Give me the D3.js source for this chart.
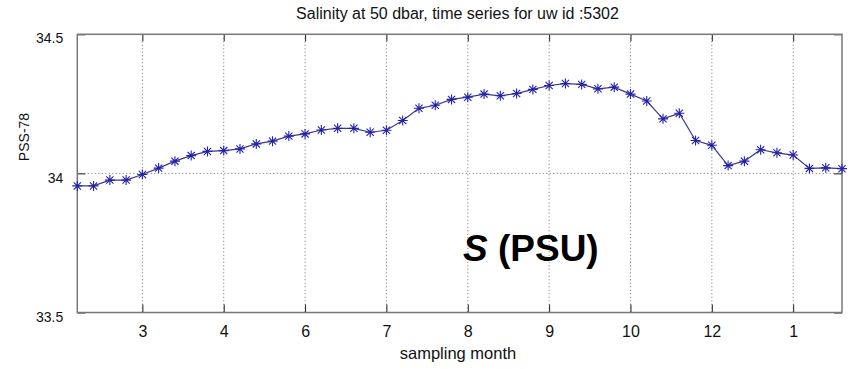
<!DOCTYPE html>
<html>
<head>
<meta charset="utf-8">
<script src="https://cdn.jsdelivr.net/npm/d3@7/dist/d3.min.js"></script>
<style>
  html, body { margin: 0; padding: 0; background: #fff; }
  svg { display: block; font-family: "Liberation Sans", Arial, Helvetica, sans-serif; }
</style>
</head>
<body>
<svg id="chart" width="850" height="369"></svg>
<script>
// Salinity samples at 50 dbar, one per sampling step
const salinity = [
  33.955, 33.955, 33.976, 33.976, 33.996, 34.019, 34.044, 34.064,
  34.079, 34.082, 34.088, 34.106, 34.116, 34.134, 34.142, 34.156,
  34.162, 34.162, 34.148, 34.155, 34.190, 34.234, 34.245, 34.266,
  34.274, 34.285, 34.279, 34.287, 34.302, 34.316, 34.323, 34.320,
  34.304, 34.310, 34.285, 34.260, 34.196, 34.216, 34.118, 34.101,
  34.028, 34.044, 34.085, 34.074, 34.066, 34.018, 34.020, 34.017
];
// Sample positions carrying a month label, and the labels themselves
const monthTickIndex = [4, 9, 14, 19, 24, 29, 34, 39, 44];
const monthTickLabels = ["3", "4", "6", "7", "8", "9", "10", "12", "1"];
const yTicks = [33.5, 34, 34.5];
const yTickLabels = ["33.5", "34", "34.5"];

const svg = d3.select("#chart");
const plot = { left: 77.3, right: 842, top: 34.3, bottom: 312.5 };

const x = d3.scaleLinear().domain([0, salinity.length - 1]).range([plot.left, plot.right]);
const y = d3.scaleLinear().domain([33.5, 34.5]).range([plot.bottom, plot.top]);

// Dotted grid
const grid = svg.append("g").attr("stroke", "#444").attr("stroke-width", 1)
  .attr("stroke-dasharray", "1,2.5").attr("opacity", 0.75);
grid.selectAll("line.v").data(monthTickIndex).join("line").attr("class", "v")
  .attr("x1", d => x(d)).attr("x2", d => x(d))
  .attr("y1", plot.top).attr("y2", plot.bottom);
grid.selectAll("line.h").data(yTicks.filter(v => v > 33.5 && v < 34.5)).join("line").attr("class", "h")
  .attr("x1", plot.left).attr("x2", plot.right)
  .attr("y1", d => y(d)).attr("y2", d => y(d));

// Axes with inward ticks
const fmtX = i => monthTickLabels[monthTickIndex.indexOf(i)];
const fmtY = v => yTickLabels[yTicks.indexOf(v)];

const xAxis = svg.append("g").attr("transform", `translate(0,${plot.bottom})`)
  .call(d3.axisBottom(x).tickValues(monthTickIndex).tickFormat(fmtX)
    .tickSizeInner(-8).tickSizeOuter(0).tickPadding(13));
const xAxisTop = svg.append("g").attr("transform", `translate(0,${plot.top})`)
  .call(d3.axisTop(x).tickValues(monthTickIndex).tickFormat("")
    .tickSizeInner(-7).tickSizeOuter(0));
const yAxis = svg.append("g").attr("transform", `translate(${plot.left},0)`)
  .call(d3.axisLeft(y).tickValues(yTicks).tickFormat(fmtY)
    .tickSizeInner(-8).tickSizeOuter(0).tickPadding(14));
const yAxisRight = svg.append("g").attr("transform", `translate(${plot.right},0)`)
  .call(d3.axisRight(y).tickValues(yTicks).tickFormat("")
    .tickSizeInner(-8).tickSizeOuter(0));

[xAxis, xAxisTop, yAxis, yAxisRight].forEach(g => {
  g.select(".domain").remove();
  g.selectAll(".tick line").attr("stroke", "#222").attr("stroke-width", 1);
  g.selectAll(".tick text").attr("fill", "#111").attr("font-family", "Liberation Sans, Arial, sans-serif");
});
xAxis.selectAll(".tick text").attr("font-size", 16);
yAxis.selectAll(".tick text").attr("font-size", 14).attr("dy", "0.62em");

// Frame
svg.append("rect").attr("x", plot.left).attr("y", plot.top)
  .attr("width", plot.right - plot.left).attr("height", plot.bottom - plot.top)
  .attr("fill", "none").attr("stroke", "#777").attr("stroke-width", 1.5);

// Series line
const line = d3.line().x((d, i) => x(i)).y(d => y(d));
svg.append("path").datum(salinity).attr("d", line)
  .attr("fill", "none").attr("stroke", "#3a3a8c").attr("stroke-width", 1.2);

// Asterisk markers
const r = 5, rd = 3.6;
const star = `M${-r},0L${r},0M0,${-r}L0,${r}M${-rd},${-rd}L${rd},${rd}M${-rd},${rd}L${rd},${-rd}`;
svg.append("g").selectAll("path").data(salinity).join("path")
  .attr("transform", (d, i) => `translate(${x(i)},${y(d)})`)
  .attr("d", star).attr("fill", "none")
  .attr("stroke", "#2222aa").attr("stroke-width", 1.1);

// Titles and labels
svg.append("text").attr("x", 457.5).attr("y", 19).attr("text-anchor", "middle")
  .attr("font-size", 16).attr("fill", "#111")
  .text("Salinity at 50 dbar, time series for uw id :5302");
svg.append("text").attr("x", 458).attr("y", 359).attr("text-anchor", "middle")
  .attr("font-size", 16.5).attr("fill", "#111").text("sampling month");
svg.append("text").attr("transform", "translate(29,137) rotate(-90)")
  .attr("text-anchor", "middle").attr("font-size", 14).attr("fill", "#111")
  .text("PSS-78");

// Quantity annotation
const ann = svg.append("text").attr("x", 463).attr("y", 261)
  .attr("font-size", 37).attr("font-weight", "bold").attr("fill", "#000");
ann.append("tspan").attr("font-style", "italic").text("S");
ann.append("tspan").text(" (PSU)");
</script>
</body>
</html>
